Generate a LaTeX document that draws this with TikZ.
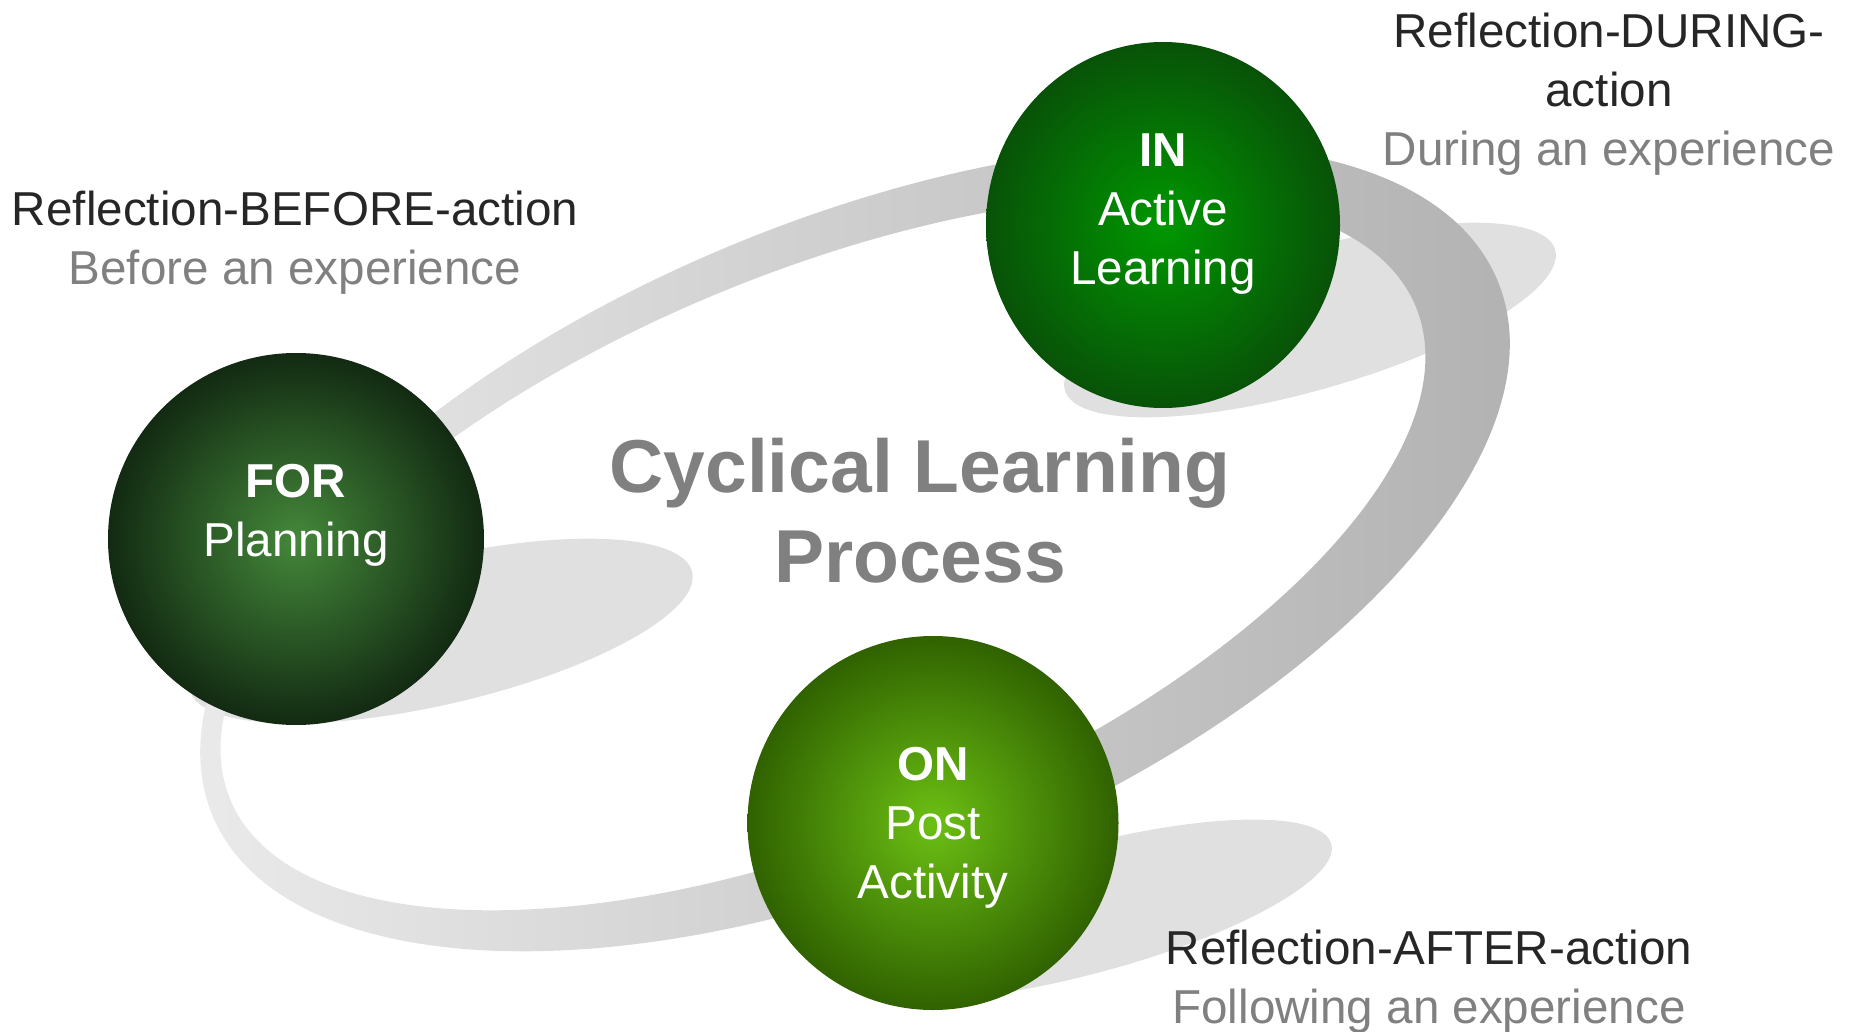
\documentclass[tikz,border=0pt]{standalone}
\usepackage{fontspec}
\setmainfont{Liberation Sans}
\usetikzlibrary{shapes.geometric}

\definecolor{headgray}{RGB}{38,38,38}
\definecolor{subgray}{RGB}{128,128,128}
\definecolor{shadowgray}{RGB}{224,224,224}
\definecolor{ringlight}{RGB}{236,236,236}
\definecolor{ringdark}{RGB}{176,176,176}
\definecolor{forin}{RGB}{68,136,58}
\definecolor{forout}{RGB}{18,42,18}
\definecolor{inin}{RGB}{0,152,0}
\definecolor{inout}{RGB}{8,82,8}
\definecolor{onin}{RGB}{108,192,20}
\definecolor{onout}{RGB}{48,98,0}

\begin{document}
\begin{tikzpicture}[x=1pt, y=-1pt,
    ball/.style={ellipse, inner sep=0pt, shading=radial},
    balltext/.style={text=white, align=center, font=\fontsize{47.6}{59}\selectfont},
    caption/.style={text=headgray, align=center, font=\fontsize{47.6}{59}\selectfont},
    heading/.style={text=subgray, align=center, font=\bfseries\fontsize{75}{90}\selectfont}]
  \useasboundingbox (0,0) rectangle (1852,1032);
  % shadows under the balls
  \draw[draw=none, fill=shadowgray, rotate around={13.2:(441,631)}] (441,631) ellipse (258 and 73);
  \draw[draw=none, fill=shadowgray, rotate around={16:(1310,320)}] (1310,320) ellipse (255 and 70);
  \draw[draw=none, fill=shadowgray, rotate around={15:(1085,910)}] (1085,910) ellipse (255 and 64);
  % the ring
  \begin{scope}[shift={(855,548)}, rotate=22.6]
    \draw[draw=none, even odd rule, left color=ringlight, right color=ringdark]
      (0,0) ellipse (696 and 327) (-31.5,-7.7) ellipse (642 and 280);
  \end{scope}
  % balls
  \node[ball, minimum width=376pt, minimum height=372pt, inner color=forin, outer color=forout] (for) at (296,539) {};
  \node[ball, minimum width=354pt, minimum height=366pt, inner color=inin, outer color=inout] (in) at (1163,225) {};
  \node[ball, minimum width=371pt, minimum height=374pt, inner color=onin, outer color=onout] (on) at (933,823) {};
  \node[balltext] (fortext) at (296,515) {\textbf{FOR}\\Planning};
  \node[balltext] (intext) at (1163,214) {\textbf{IN}\\Active\\Learning};
  \node[balltext] (ontext) at (933,828) {\textbf{ON}\\Post\\Activity};
  % captions
  \node[caption] (before) at (295,243) {Reflection-BEFORE-action\\\textcolor{subgray}{Before an experience}};
  \node[caption] (during) at (1609,94) {Reflection-DURING-\\action\\\textcolor{subgray}{During an experience}};
  \node[caption] (after) at (1429,982) {Reflection-AFTER-action\\\textcolor{subgray}{Following an experience}};
  \node[heading] (cycle) at (920,511) {Cyclical Learning\\Process};
\end{tikzpicture}
\end{document}
